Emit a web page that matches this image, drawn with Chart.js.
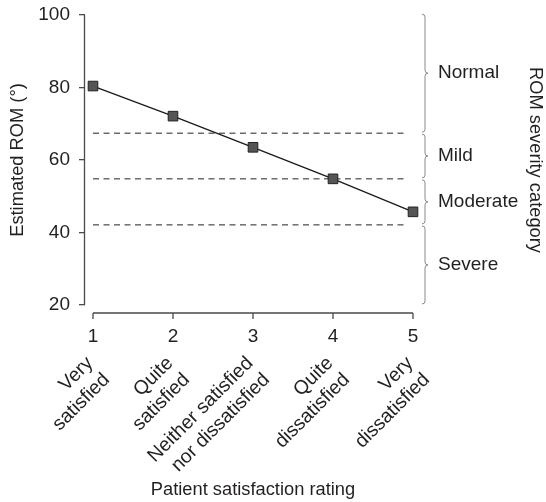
<!DOCTYPE html>
<html>
<head>
<meta charset="utf-8">
<script src="https://cdn.jsdelivr.net/npm/chart.js@4"></script>
<style>
  html, body { margin: 0; padding: 0; background: #fff; }
  canvas { display: block; }
</style>
</head>
<body>
<canvas id="grafico" width="546" height="502"></canvas>
<script>
// Datos
const ratings = [1, 2, 3, 4, 5];
const ratingLabels = [
    ['Very', 'satisfied'],
    ['Quite', 'satisfied'],
    ['Neither satisfied', 'nor dissatisfied'],
    ['Quite', 'dissatisfied'],
    ['Very', 'dissatisfied']
];
const estimatedRom = [80.4, 72.1, 63.5, 54.8, 45.7];
const yTicks = [20, 40, 60, 80, 100];
const severityNames = ['Normal', 'Mild', 'Moderate', 'Severe'];
const severityEdges = [100.5, 67.4, 54.8, 42.1, 20];
const severityCuts = severityEdges.slice(1, -1);
const severityMids = severityNames.map((n, i) => (severityEdges[i] + severityEdges[i + 1]) / 2);

const textColor = '#231f20';
const axisColor = '#4a4a4a';
const familia = '"Liberation Sans", Arial, Helvetica, sans-serif';
const fontTicks = { family: familia, size: 19 };
const fontRot = { family: familia, size: 19.5 };
const fontTitulo = { family: familia, size: 18.3 };

Chart.defaults.font.family = familia;
Chart.defaults.color = textColor;

// Ejes estilo R + llaves de severidad
const ejesPlugin = {
    id: 'ejes',
    afterDraw(chart) {
        const { ctx, chartArea, scales } = chart;
        const x = scales.x, y = scales.y;
        ctx.save();
        ctx.strokeStyle = axisColor;
        ctx.lineWidth = 1.3;

        // eje y
        ctx.beginPath();
        ctx.moveTo(chartArea.left - 0.5, y.getPixelForValue(yTicks[0]));
        ctx.lineTo(chartArea.left - 0.5, y.getPixelForValue(yTicks[yTicks.length - 1]));
        ctx.stroke();

        // eje x, separado del área
        const ax = chartArea.bottom + 8;
        ctx.beginPath();
        ctx.moveTo(x.getPixelForValue(ratings[0]), ax);
        ctx.lineTo(x.getPixelForValue(ratings[ratings.length - 1]), ax);
        ratings.forEach(r => {
            const px = x.getPixelForValue(r);
            ctx.moveTo(px, ax);
            ctx.lineTo(px, ax + 6);
        });
        ctx.stroke();

        // llaves
        ctx.strokeStyle = '#8a8a8a';
        ctx.lineWidth = 1;
        const x0 = chartArea.right + 4;
        const w = 3;
        for (let i = 0; i < severityNames.length; i++) {
            const yA = y.getPixelForValue(severityEdges[i]) + 1;
            const yB = y.getPixelForValue(severityEdges[i + 1]) - 1;
            const ym = (yA + yB) / 2;
            ctx.beginPath();
            ctx.moveTo(x0 - w, yA);
            ctx.quadraticCurveTo(x0, yA, x0, yA + w);
            ctx.lineTo(x0, ym - w);
            ctx.quadraticCurveTo(x0, ym, x0 + w, ym);
            ctx.quadraticCurveTo(x0, ym, x0, ym + w);
            ctx.lineTo(x0, yB - w);
            ctx.quadraticCurveTo(x0, yB, x0 - w, yB);
            ctx.stroke();
        }
        ctx.restore();
    }
};

// sin relleno extra por etiquetas
function sinPadding(s) {
    s.paddingTop = 0;
    s.paddingBottom = 0;
    s.paddingLeft = 0;
    s.paddingRight = 0;
}

const dashEnd = 4.93;
const cutDatasets = severityCuts.map(c => ({
    data: [{ x: ratings[0], y: c }, { x: dashEnd, y: c }],
    borderColor: '#222',
    borderWidth: 1,
    borderDash: [6, 4.5],
    pointRadius: 0,
    showLine: true,
    order: 2
}));

const ctx = document.getElementById('grafico').getContext('2d');
const chart = new Chart(ctx, {
    type: 'scatter',
    data: {
        datasets: [{
            data: ratings.map((r, i) => ({ x: r, y: estimatedRom[i] })),
            borderColor: '#1a1a1a',
            borderWidth: 1.3,
            showLine: true,
            pointStyle: 'rect',
            pointRadius: 6.8,
            pointBackgroundColor: '#555',
            pointBorderColor: '#222',
            pointBorderWidth: 1,
            order: 0
        }, ...cutDatasets]
    },
    options: {
        responsive: false,
        animation: false,
        layout: { padding: { top: 15, left: 0, right: 0, bottom: 0 } },
        plugins: { legend: { display: false }, tooltip: { enabled: false } },
        scales: {
            x: {
                type: 'linear',
                position: 'bottom',
                min: 0.9,
                max: 5.1,
                afterBuildTicks: s => { s.ticks = ratings.map(v => ({ value: v })); },
                afterFit: s => { s.height = 38; sinPadding(s); },
                grid: { display: false, drawTicks: false },
                border: { display: false },
                ticks: { font: fontTicks, padding: 20, maxRotation: 0, color: textColor }
            },
            x2: {
                type: 'linear',
                position: 'bottom',
                min: 0.9,
                max: 5.1,
                afterBuildTicks: s => { s.ticks = ratings.map(v => ({ value: v })); },
                afterFit: s => { s.height = 159; sinPadding(s); },
                grid: { display: false, drawTicks: false },
                border: { display: false },
                ticks: {
                    font: fontRot,
                    padding: 9,
                    labelOffset: -3,
                    minRotation: 45,
                    maxRotation: 45,
                    autoSkip: false,
                    color: textColor,
                    callback: (v, i) => ratingLabels[i]
                },
                title: {
                    display: true,
                    text: 'Patient satisfaction rating',
                    font: fontTitulo,
                    color: textColor,
                    padding: { top: 0, bottom: 1 }
                }
            },
            y: {
                min: 20,
                max: 100,
                afterBuildTicks: s => { s.ticks = yTicks.map(v => ({ value: v })); },
                afterFit: s => { s.width = 85; sinPadding(s); },
                grid: { drawOnChartArea: false, drawTicks: true, tickLength: 6, color: axisColor, lineWidth: 1.3 },
                border: { display: false },
                ticks: { font: fontTicks, padding: 9, color: textColor },
                title: {
                    display: true,
                    text: 'Estimated ROM (°)',
                    font: fontTitulo,
                    color: textColor,
                    padding: { top: 7, bottom: 0 }
                }
            },
            y2: {
                position: 'right',
                min: 20,
                max: 100,
                afterBuildTicks: s => { s.ticks = severityMids.map(v => ({ value: v })); },
                afterFit: s => { s.width = 125; sinPadding(s); },
                grid: { display: false, drawTicks: false },
                border: { display: false },
                ticks: {
                    font: fontTicks,
                    padding: 17,
                    color: textColor,
                    callback: (v, i) => severityNames[i]
                },
                title: {
                    display: true,
                    text: 'ROM severity category',
                    font: fontTitulo,
                    color: textColor,
                    padding: { top: 0, bottom: 0 }
                }
            }
        }
    },
    plugins: [ejesPlugin]
});
</script>
</body>
</html>
